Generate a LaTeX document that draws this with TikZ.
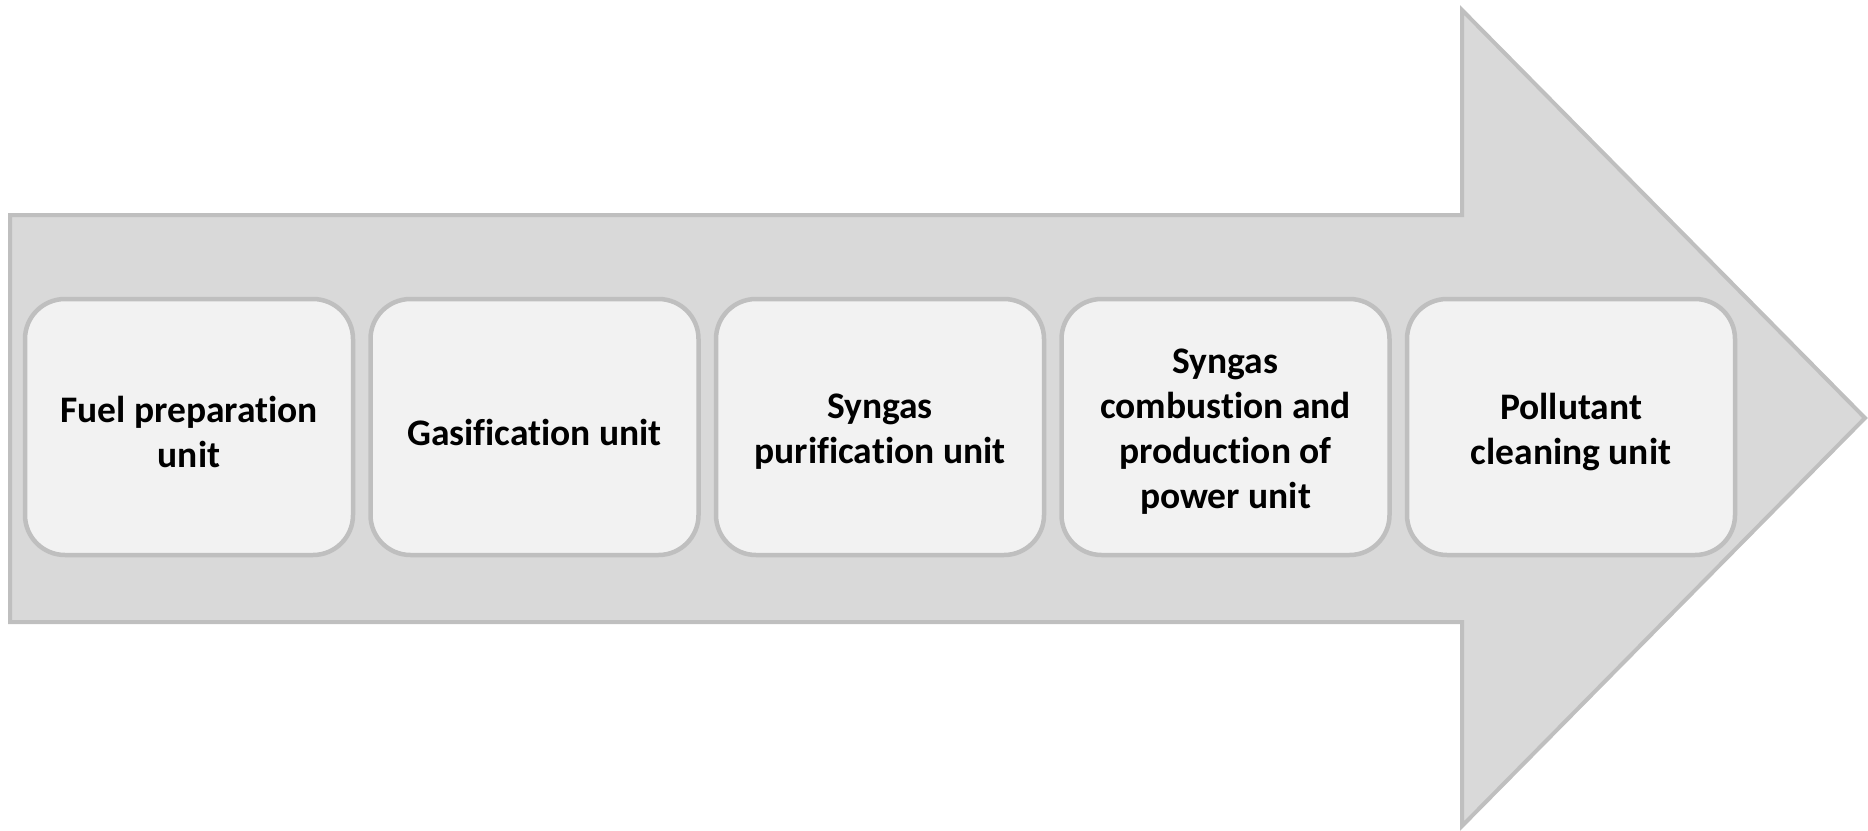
\documentclass[tikz,border=0pt]{standalone}
\usepackage{fontspec}
\setmainfont{Carlito}[Ligatures=NoCommon]
\definecolor{arrowfill}{HTML}{D9D9D9}
\definecolor{edgegray}{HTML}{BFBFBF}
\definecolor{boxfill}{HTML}{F2F2F2}
\tikzset{
  unitbox/.style={draw=edgegray, line width=4.5pt, fill=boxfill, rounded corners=40pt,
    minimum width=328pt, minimum height=256pt, inner sep=0pt},
  unittext/.style={inner sep=0pt, align=center, yshift=-5pt,
    font=\fontsize{37.5}{45}\selectfont\bfseries, text=black},
  bigarrow/.style={draw=edgegray, line width=4pt, fill=arrowfill, line join=miter}
}
\begin{document}
\begin{tikzpicture}[x=1pt,y=-1pt]
\useasboundingbox (0,0) rectangle (1868,830);
\draw[bigarrow] (10,215) -- (1462,215) -- (1462,10) -- (1865,418) -- (1462,826) -- (1462,622) -- (10,622) -- cycle;
\node[unitbox] (u1) at (189,427) {};
\node[unitbox] (u2) at (534.5,427) {};
\node[unitbox] (u3) at (880,427) {};
\node[unitbox] (u4) at (1225.5,427) {};
\node[unitbox] (u5) at (1571,427) {};
\node[unittext] (t1) at (u1.center) {Fuel preparation\\unit};
\node[unittext] (t2) at (u2.center) {Gasification unit};
\node[unittext] (t3) at (u3.center) {Syngas\\purification unit};
\node[unittext] (t4) at (u4.center) {Syngas\\combustion and\\production of\\power unit};
\node[unittext] (t5) at (u5.center) {Pollutant\\cleaning unit};
\end{tikzpicture}
\end{document}
